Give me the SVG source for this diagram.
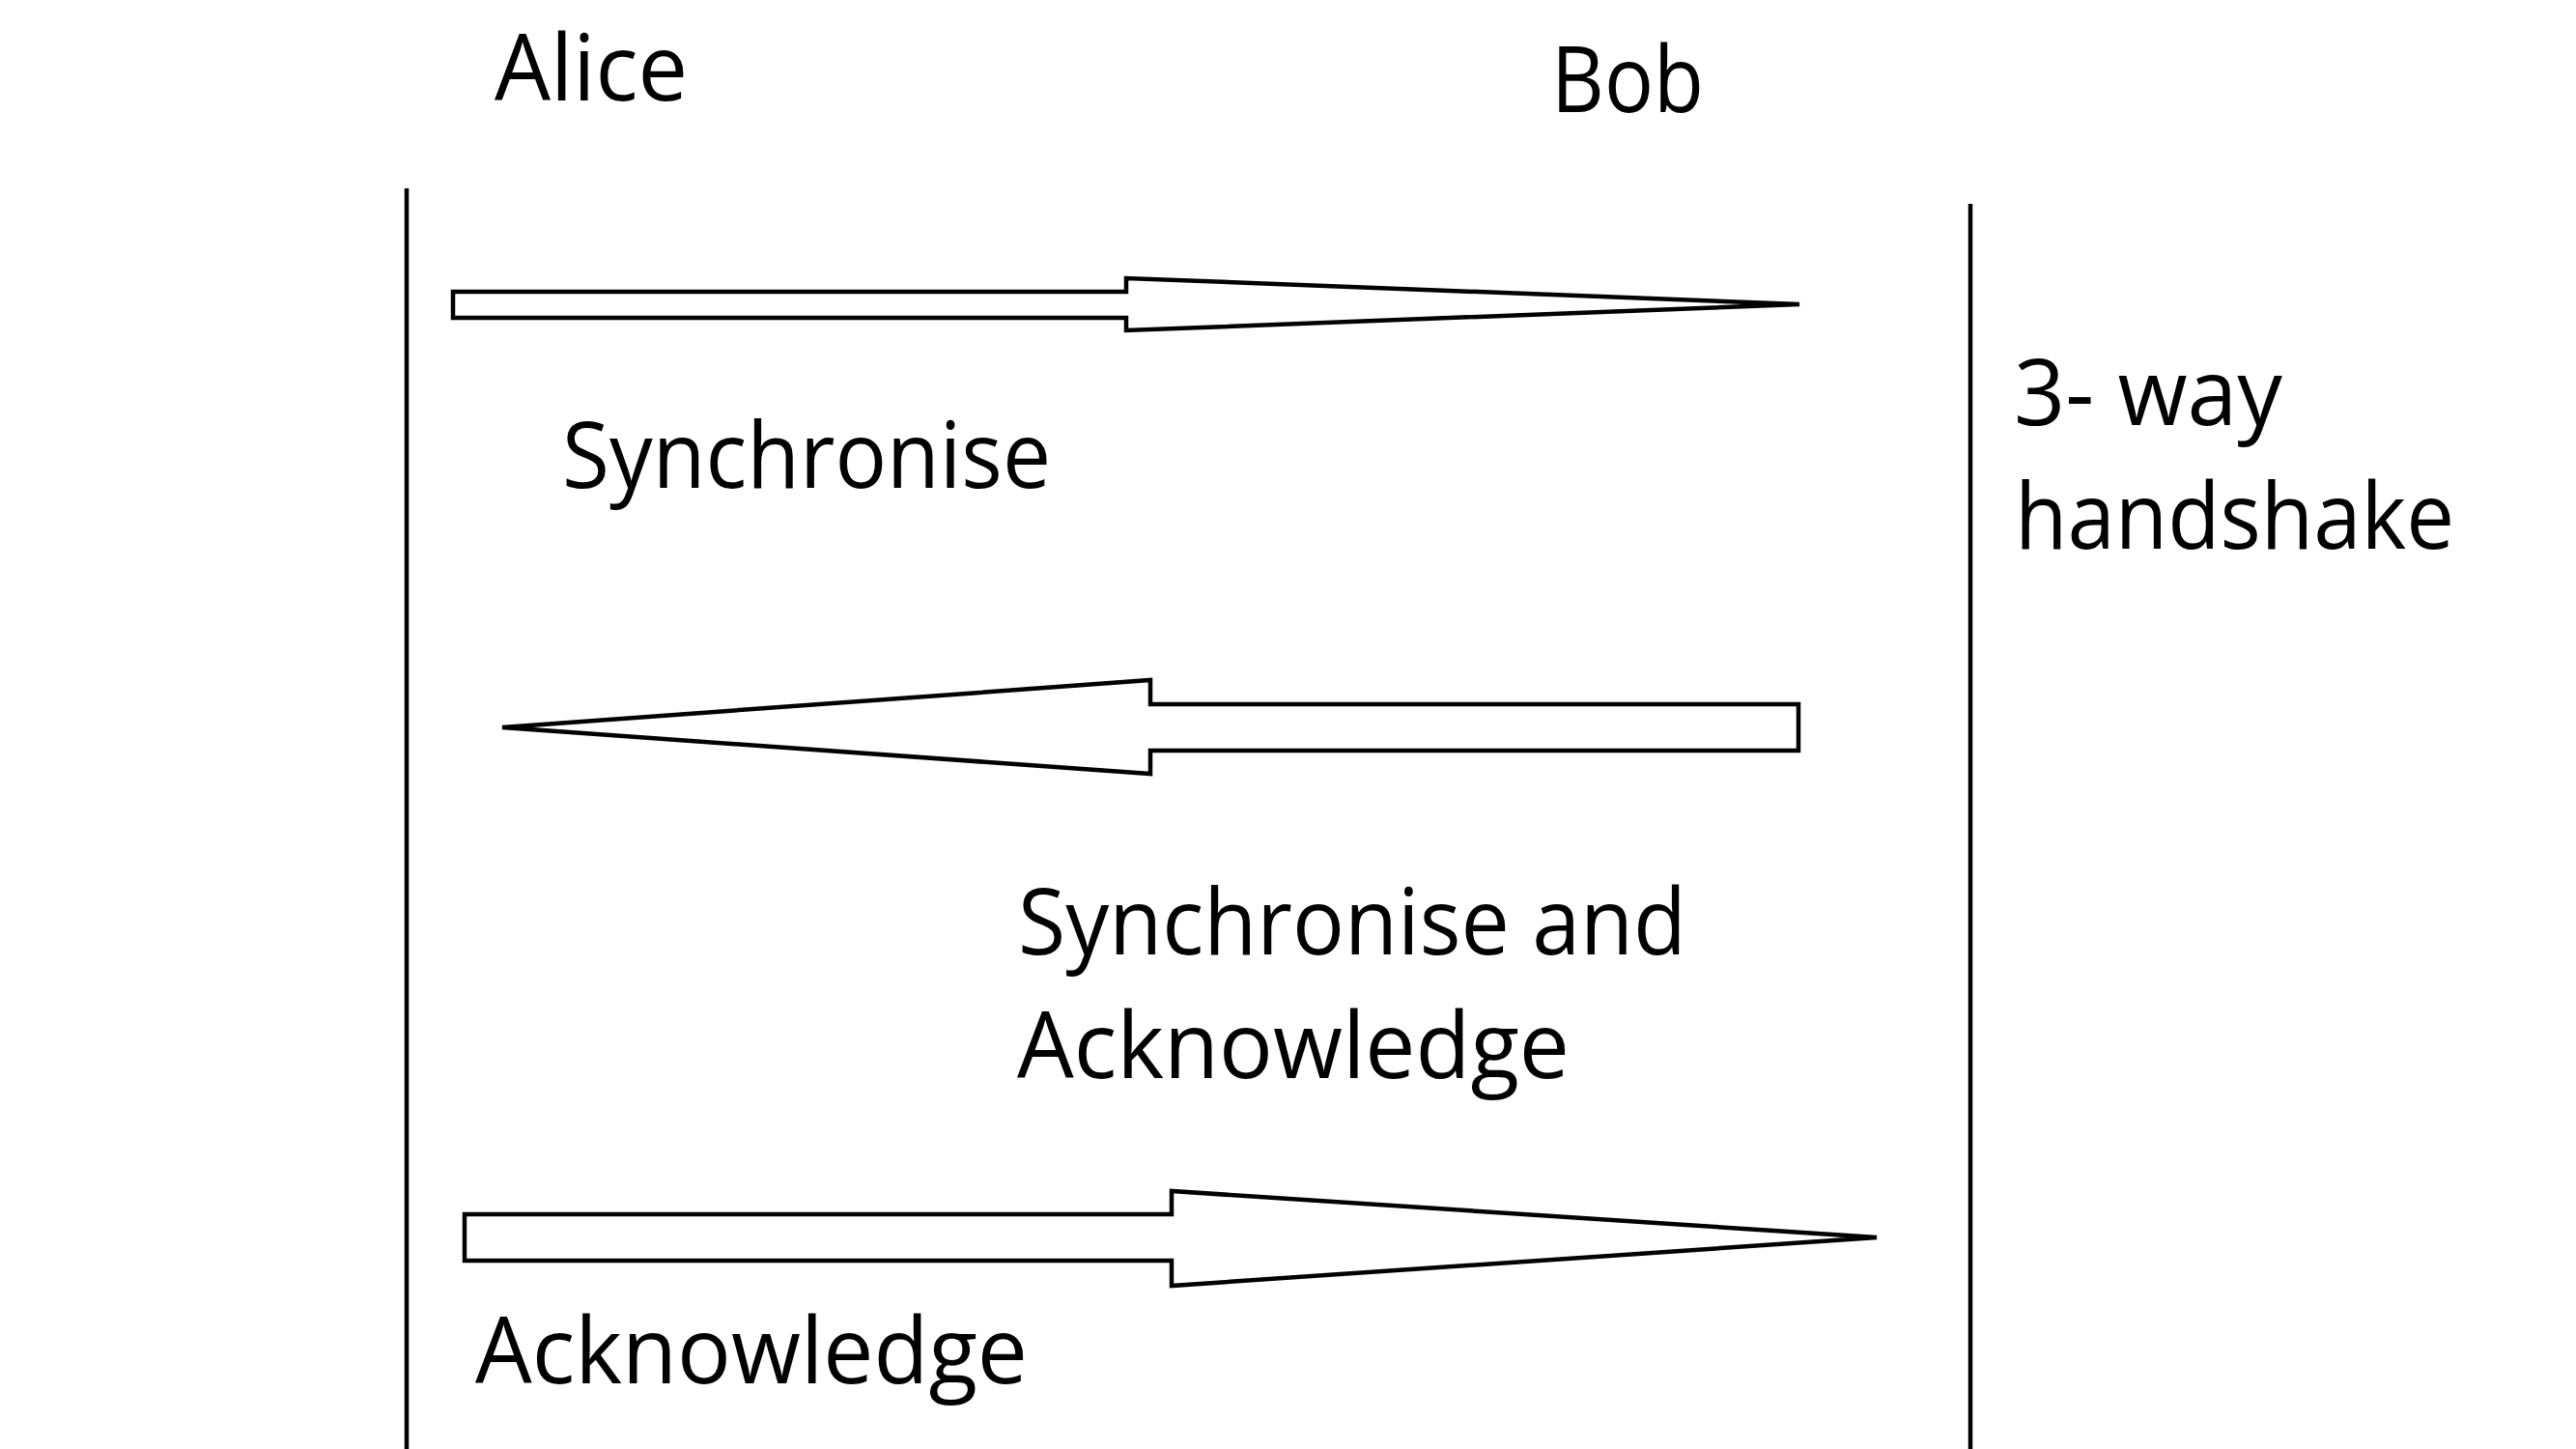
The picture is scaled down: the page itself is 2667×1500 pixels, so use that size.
<svg xmlns="http://www.w3.org/2000/svg" width="2667" height="1500" viewBox="0 0 2667 1500">
<style>
  .lbl { font-family: "Open Sans", "Noto Sans", "DejaVu Sans", sans-serif; font-size: 96px; fill: #000; }
  .life { stroke: #000; stroke-width: 4.5; fill: none; }
  .arrow { fill: #fff; stroke: #000; stroke-width: 4.5; stroke-linejoin: miter; }
</style>
<rect width="2667" height="1500" fill="#fff"/>
<g id="alice">
  <text class="lbl" x="512" y="104" textLength="200" lengthAdjust="spacingAndGlyphs">Alice</text>
  <line class="life" x1="421" y1="195" x2="421" y2="1500"/>
</g>
<g id="bob">
  <text class="lbl" x="1606" y="116" textLength="158" lengthAdjust="spacingAndGlyphs">Bob</text>
  <line class="life" x1="2040" y1="211" x2="2040" y2="1500"/>
</g>
<g id="note">
  <text class="lbl" x="2085" y="440" textLength="278" lengthAdjust="spacingAndGlyphs">3- way</text>
  <text class="lbl" x="2086" y="568" textLength="455" lengthAdjust="spacingAndGlyphs">handshake</text>
</g>
<g id="connectors">
  <g id="syn">
    <polygon class="arrow" points="469,302 1166,302 1166,288 1863,315 1166,342 1166,329 469,329"/>
    <text class="lbl" x="582" y="505" textLength="506" lengthAdjust="spacingAndGlyphs">Synchronise</text>
  </g>
  <g id="synack">
    <polygon class="arrow" points="1862,729 1191,729 1191,704 520,753 1191,801 1191,777 1862,777"/>
    <text class="lbl" x="1054" y="988" textLength="692" lengthAdjust="spacingAndGlyphs">Synchronise and</text>
    <text class="lbl" x="1053" y="1116" textLength="572" lengthAdjust="spacingAndGlyphs">Acknowledge</text>
  </g>
  <g id="ack">
    <polygon class="arrow" points="481,1257 1213,1257 1213,1233 1943,1281 1213,1331 1213,1305 481,1305"/>
    <text class="lbl" x="492" y="1432" textLength="572" lengthAdjust="spacingAndGlyphs">Acknowledge</text>
  </g>
</g>
</svg>
